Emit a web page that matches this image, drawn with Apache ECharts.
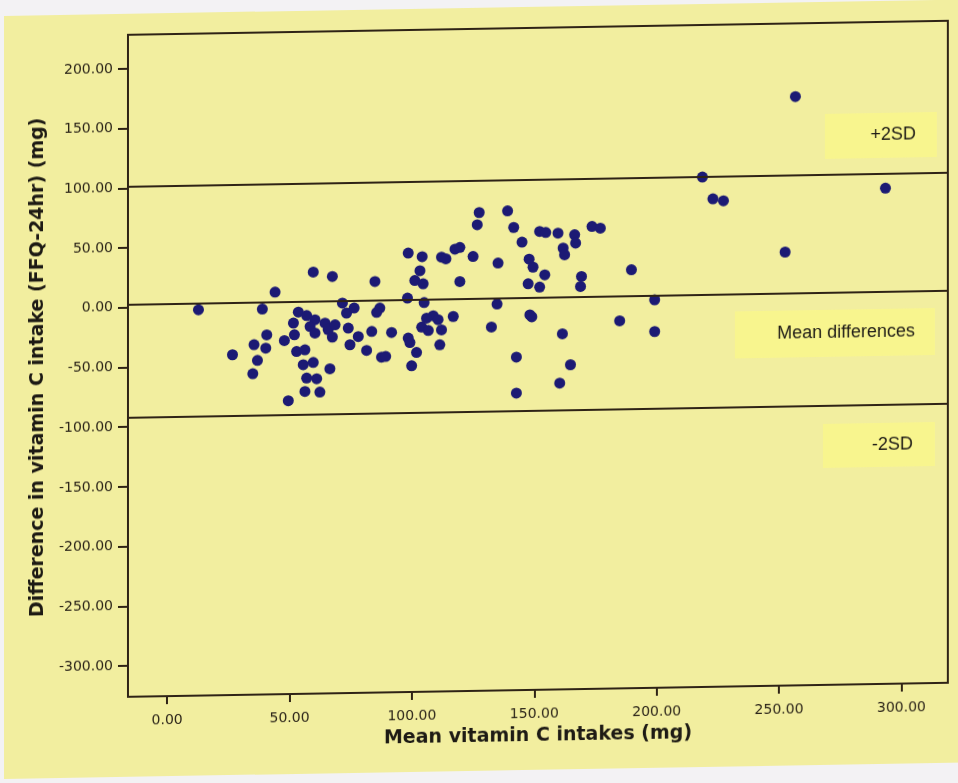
<!DOCTYPE html>
<html>
<head>
<meta charset="utf-8">
<title>Bland-Altman plot: vitamin C intake</title>
<script src="https://cdn.jsdelivr.net/npm/echarts@6/dist/echarts.min.js"></script>
<style>
  html, body { margin: 0; padding: 0; background: #f3f2f4; overflow: hidden; }
  #wrap {
    position: absolute; left: 0; top: 0; width: 958px; height: 783px;
    transform: skewY(-0.98deg); transform-origin: 0 0;
  }
  #paper {
    position: absolute; left: 4px; top: 16px; width: 975px; height: 763px;
    background: #f2ee9f;
  }
  #chart { position: absolute; left: 0; top: 0; width: 958px; height: 783px; }
</style>
</head>
<body>
<div id="wrap">
  <div id="paper"></div>
  <div id="chart"></div>
</div>
<script>
// Mean of the two methods (mg) for each subject
const meanIntake = [
  12.8, 26.7, 38.9, 44.1, 35.5, 40.7, 40.3, 36.9, 35.0, 49.5,
  71.6, 53.6, 57.0, 60.4, 51.6, 52.0, 47.9, 52.9, 56.3, 55.6,
  59.7, 66.5, 57.0, 61.1, 56.3, 62.4, 73.3, 74.0, 74.7, 58.4,
  60.4, 64.5, 65.8, 68.6, 67.5, 59.7, 67.5, 98.5, 104.2, 112.1,
  113.9, 117.6, 119.6, 103.3, 101.2, 104.6, 84.9, 119.6, 98.2, 105.0,
  76.4, 86.9, 85.6, 78.1, 83.6, 91.7, 81.5, 87.6, 89.3, 98.5,
  99.2, 101.9, 99.9, 108.7, 106.0, 110.7, 104.0, 106.7, 112.1, 111.4,
  116.9, 127.5, 139.1, 126.7, 141.6, 152.2, 154.7, 159.7, 166.5, 166.9,
  173.6, 177.0, 145.0, 161.8, 162.4, 125.0, 135.2, 147.9, 149.5, 154.3,
  147.5, 152.2, 169.3, 168.9, 189.7, 134.8, 148.2, 132.5, 161.5, 184.9,
  199.2, 199.2, 142.7, 164.8, 160.4, 142.7, 256.7, 218.7, 223.0, 227.3,
  293.5, 252.5, 149.0
];
// Difference FFQ minus 24-hour recall (mg) for the same subjects
const diffIntake = [
  -2.8, -41.0, -3.2, 10.9, -32.9, -24.8, -35.9, -46.1, -57.2, -80.3,
  0.7, -6.2, -9.2, -12.9, -15.3, -25.1, -29.8, -39.2, -37.9, -50.4,
  -48.6, -54.1, -61.6, -62.3, -72.8, -73.5, -7.7, -20.3, -34.3, -18.4,
  -24.0, -15.8, -21.4, -17.4, -27.6, 27.1, 23.1, 41.7, 38.4, 37.8,
  36.3, 44.3, 45.6, 26.7, 18.6, 15.7, 18.3, 17.1, 4.0, 0.0,
  -3.6, -4.0, -7.6, -27.5, -23.5, -24.6, -39.3, -45.1, -44.6, -29.5,
  -33.3, -41.7, -52.8, -11.2, -13.1, -14.6, -20.5, -23.5, -23.1, -35.6,
  -12.1, 74.6, 75.6, 64.4, 61.6, 57.9, 56.9, 56.2, 54.6, 47.6,
  61.3, 59.8, 49.2, 43.6, 38.0, 37.9, 32.0, 34.9, 28.1, 21.5,
  14.2, 11.3, 19.6, 11.2, 24.5, -2.3, -11.8, -21.5, -28.2, -18.1,
  -1.0, -27.6, -47.0, -54.2, -69.4, -77.2, 167.2, 101.1, 82.7, 80.9,
  89.2, 37.1, -13.5
];

// Limits of agreement and mean difference (mg)
const upperLimit = 101;
const meanDifference = 2.5;
const lowerLimit = -92;

// Tick values for both axes
const xTicks = [0, 50, 100, 150, 200, 250, 300];
const yTicks = [-300, -250, -200, -150, -100, -50, 0, 50, 100, 150, 200];

// Reference line captions
const lineNotes = ['+2SD', 'Mean differences', '-2SD'];

const ink = '#2f2316';
const points = meanIntake.map((m, i) => [m, diffIntake[i]]);

const chart = echarts.init(document.getElementById('chart'), null, { renderer: 'canvas' });

function noteBox(x, y, w, h, textRight, text) {
  return {
    type: 'group',
    children: [
      { type: 'rect', shape: { x: x, y: y, width: w, height: h },
        style: { fill: '#f8f58e' }, silent: true },
      { type: 'text', x: textRight, y: y + h / 2,
        style: { text: text, fill: '#1d1a16', font: '18px "Liberation Sans", Arial, sans-serif',
                 align: 'right', verticalAlign: 'middle' }, silent: true }
    ]
  };
}

chart.setOption({
  animation: false,
  backgroundColor: 'transparent',
  grid: {
    left: 128, top: 37, right: 10, bottom: 84,
    show: true, borderColor: ink, borderWidth: 2, backgroundColor: 'transparent'
  },
  xAxis: {
    type: 'value', min: -16, max: 319,
    name: 'Mean vitamin C intakes (mg)', nameLocation: 'middle', nameGap: 37,
    nameTextStyle: { fontFamily: 'DejaVu Sans', fontWeight: 'bold', fontSize: 19, color: '#1d1a14' },
    axisLine: { show: false, onZero: false },
    splitLine: { show: false },
    axisTick: { show: true, length: 8, customValues: xTicks, lineStyle: { color: ink, width: 2 } },
    axisLabel: {
      customValues: xTicks, margin: 17, fontFamily: 'DejaVu Sans', fontSize: 14, color: '#2b2418',
      formatter: v => v.toFixed(2)
    }
  },
  yAxis: {
    type: 'value', min: -326, max: 228.5,
    name: 'Difference in vitamin C intake (FFQ-24hr) (mg)', nameLocation: 'middle', nameGap: 79,
    nameTextStyle: { fontFamily: 'DejaVu Sans', fontWeight: 'bold', fontSize: 19, color: '#1d1a14' },
    axisLine: { show: false, onZero: false },
    splitLine: { show: false },
    axisTick: { show: true, length: 10, customValues: yTicks, lineStyle: { color: ink, width: 2 } },
    axisLabel: {
      customValues: yTicks, margin: 15, fontFamily: 'DejaVu Sans', fontSize: 14, color: '#2b2418',
      formatter: v => v.toFixed(2)
    }
  },
  series: [{
    type: 'scatter',
    data: points,
    symbolSize: 11,
    itemStyle: { color: '#1c1a74', opacity: 1 },
    markLine: {
      silent: true,
      symbol: ['none', 'none'],
      label: { show: false },
      lineStyle: { color: ink, width: 2, type: 'solid' },
      data: [{ yAxis: upperLimit }, { yAxis: meanDifference }, { yAxis: lowerLimit }]
    }
  }],
  graphic: [
    noteBox(825, 128, 112, 45, 916, lineNotes[0]),
    noteBox(735, 324, 200, 47, 915, lineNotes[1]),
    noteBox(823, 438, 112, 44, 913, lineNotes[2])
  ]
});
</script>
</body>
</html>
